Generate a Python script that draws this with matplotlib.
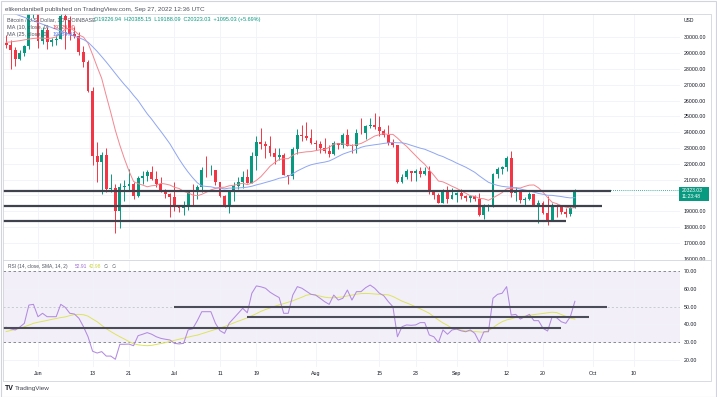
import numpy as np
import pandas as pd
import matplotlib
matplotlib.use("Agg")
import matplotlib.pyplot as plt
import matplotlib.dates as mdates
from matplotlib.patches import Rectangle
from matplotlib.lines import Line2D

plt.rcParams['font.family'] = ['Liberation Sans', 'DejaVu Sans']

W, H = 717, 397

# daily candles, BTC/USD Coinbase, 2022-05-25 .. 2022-09-27
dates = pd.date_range("2022-05-25", "2022-09-27", freq="D")

opens = [29650, 29540, 29200, 28620, 29030, 29470, 31730, 31800, 29800, 30450,
         29700, 29860, 29910, 31370, 31130, 30200, 30110, 29090, 28420, 26590,
         22490, 22130, 22590, 20380, 20470, 19010, 20550, 20580, 20720, 19970,
         21100, 21230, 21500, 21030, 20730, 20280, 20110, 19930, 19300, 19240,
         19300, 20230, 20190, 20550, 21620, 21590, 21600, 20850, 19960, 19330,
         20210, 20570, 20830, 21190, 20780, 22480, 23390, 23230, 23160, 22680,
         22460, 22580, 21310, 21250, 22950, 23850, 23780, 23640, 23300, 23270,
         22990, 22820, 22620, 23310, 23180, 23810, 23160, 23150, 23950, 23940,
         24400, 24440, 24310, 24100, 23850, 23340, 23210, 20830, 21140, 21520,
         21400, 21530, 21370, 21560, 20240, 20040, 19550, 20280, 19810, 20050,
         20130, 19950, 19830, 19990, 19800, 18790, 19290, 19320, 21360, 21650,
         21830, 22400, 20170, 20230, 19700, 19800, 20110, 19420, 19540, 18880,
         18480, 19400, 19300, 18930, 18800, 19226.94]

highs = [30180, 29860, 29380, 29210, 29540, 32220, 32400, 31970, 30670, 30690,
         29960, 30170, 31750, 31560, 31330, 30660, 30350, 29450, 28560, 26880,
         23360, 22750, 22980, 21340, 20750, 20800, 21000, 21700, 20870, 21220,
         21520, 21600, 21860, 21520, 21170, 20420, 20150, 20880, 19420, 19650,
         20330, 20730, 20660, 21830, 22510, 21950, 21610, 20870, 20050, 20290,
         20880, 21200, 21580, 21690, 22770, 23750, 24280, 23440, 23740, 22990,
         23010, 22660, 21320, 23090, 24190, 24440, 24660, 24190, 23510, 23450,
         23650, 23220, 23450, 23350, 23930, 24240, 23260, 24220, 24920, 24450,
         24880, 25210, 25050, 24230, 24440, 23600, 23210, 21360, 21690, 21530,
         21660, 21820, 21820, 21890, 20340, 20140, 20420, 20570, 20480, 20200,
         20440, 20050, 20000, 20040, 20170, 19460, 19450, 21440, 21800, 21860,
         22480, 22800, 20540, 20330, 19890, 20190, 20120, 19690, 19640, 19950,
         19500, 19480, 19320, 19180, 19320, 20385.15]

lows = [29320, 28030, 28220, 28560, 28850, 29300, 31230, 29310, 29580, 29280,
        29460, 29520, 29880, 29250, 29850, 29980, 28870, 28110, 26560, 21930,
        20850, 20080, 20250, 20240, 17630, 17950, 19650, 20360, 19780, 19900,
        20740, 20900, 20980, 20520, 20210, 19850, 18630, 19000, 18980, 18780,
        19060, 19310, 19780, 20250, 21200, 21320, 20650, 19900, 19250, 18920,
        19640, 20400, 20480, 20760, 20760, 21610, 22950, 22350, 22510, 22000,
        22270, 21280, 20710, 21050, 22600, 23420, 23520, 23240, 22850, 22680,
        22710, 22440, 22590, 22930, 22990, 23150, 22670, 22690, 23870, 23600,
        24300, 24200, 23790, 23700, 23200, 23080, 20800, 20760, 21070, 20890,
        20920, 21140, 21320, 20120, 19800, 19520, 19550, 19550, 19800, 19570,
        19760, 19650, 19600, 19640, 18680, 18530, 19020, 19300, 21100, 21360,
        21560, 19880, 19640, 19510, 19330, 19700, 19360, 18260, 18800, 18130,
        18380, 18620, 18820, 18630, 18690, 19188.09]

closes = [29540, 29200, 28620, 29030, 29470, 31730, 31800, 29800, 30450, 29700,
          29860, 29910, 31370, 31130, 30200, 30110, 29090, 28420, 26590, 22490,
          22130, 22590, 20380, 20470, 19010, 20550, 20580, 20720, 19970, 21100,
          21230, 21500, 21030, 20730, 20280, 20110, 19930, 19300, 19240, 19300,
          20230, 20190, 20550, 21620, 21590, 21600, 20850, 19960, 19330, 20210,
          20570, 20830, 21190, 20780, 22480, 23390, 23230, 23160, 22680, 22460,
          22580, 21310, 21250, 22950, 23850, 23780, 23640, 23300, 23270, 22990,
          22820, 22620, 23310, 23180, 23810, 23160, 23150, 23950, 23940, 24400,
          24440, 24310, 24100, 23850, 23340, 23210, 20830, 21140, 21520, 21400,
          21530, 21370, 21560, 20240, 20040, 19550, 20280, 19810, 20050, 20130,
          19950, 19830, 19990, 19800, 18790, 19290, 19320, 21360, 21650, 21830,
          22400, 20170, 20230, 19700, 19800, 20110, 19420, 19540, 18880, 18480,
          19400, 19300, 18930, 18800, 19226.94, 20323.03]

ma10 = [29700, 29720, 29760, 29800, 29850, 29900, 29940, 29960, 29960, 29934,
        29966, 30037, 30312, 30522, 30595, 30433, 30162, 30024, 29638, 28917,
        28144, 27412, 26313, 25247, 24128, 23172, 22321, 21551, 20889, 20750,
        20660, 20551, 20616, 20642, 20769, 20725, 20660, 20518, 20445, 20265,
        20165, 20034, 19986, 20075, 20206, 20355, 20447, 20513, 20522, 20613,
        20647, 20711, 20775, 20691, 20780, 20959, 21197, 21517, 21852, 22077,
        22278, 22326, 22332, 22549, 22686, 22725, 22766, 22780, 22839, 22892,
        22916, 23047, 23253, 23276, 23272, 23210, 23161, 23226, 23293, 23434,
        23596, 23765, 23844, 23911, 23864, 23869, 23637, 23356, 23114, 22814,
        22523, 22229, 21975, 21614, 21284, 20918, 20863, 20730, 20583, 20456,
        20298, 20144, 19987, 19943, 19818, 19792, 19696, 19851, 20011, 20181,
        20426, 20460, 20484, 20474, 20575, 20657, 20667, 20485, 20208, 19873,
        19573, 19486, 19356, 19266, 19209, 19230]

ma25 = [31710, 31600, 31490, 31380, 31280, 31170, 31060, 30950, 30840, 30740,
        30630, 30520, 30410, 30300, 30190, 30080, 29980, 29870, 29700, 29420,
        29120, 28790, 28450, 28090, 27724, 27364, 27019, 26703, 26341, 26006,
        25586, 25174, 24823, 24434, 24058, 23668, 23268, 22786, 22310, 21874,
        21479, 21123, 20808, 20609, 20573, 20552, 20482, 20466, 20420, 20468,
        20469, 20479, 20498, 20530, 20585, 20672, 20741, 20826, 20904, 20991,
        21090, 21145, 21223, 21372, 21554, 21696, 21834, 21944, 22010, 22066,
        22114, 22185, 22319, 22473, 22617, 22721, 22814, 22924, 23050, 23127,
        23169, 23212, 23250, 23297, 23332, 23357, 23338, 23334, 23276, 23178,
        23088, 22998, 22928, 22807, 22689, 22558, 22464, 22324, 22199, 22052,
        21924, 21791, 21632, 21467, 21242, 21036, 20837, 20727, 20639, 20579,
        20546, 20520, 20484, 20411, 20347, 20290, 20212, 20131, 20077, 20014,
        20008, 19969, 19934, 19884, 19848, 19863]

rsi = [38.4, 37.5, 36.9, 38.5, 40.6, 50.8, 51.2, 44.3, 46.2, 44.3,
       44.3, 44.3, 51.2, 49.5, 46.2, 45.8, 43.4, 38.7, 33.1, 25.0,
       24.0, 24.8, 22.3, 22.3, 20.5, 28.9, 28.9, 29.0, 28.1, 33.7,
       34.5, 35.4, 34.5, 33.1, 32.2, 31.7, 31.3, 29.4, 29.1, 29.4,
       36.9, 37.6, 42.0, 47.1, 47.1, 47.1, 40.6, 36.5, 35.0, 40.6,
       43.4, 46.2, 49.0, 46.5, 57.4, 61.5, 61.0, 60.2, 58.0, 56.4,
       55.0, 46.2, 46.2, 56.4, 61.1, 60.2, 58.5, 56.8, 56.4, 54.6,
       52.7, 51.2, 56.4, 53.6, 54.6, 59.2, 53.6, 58.3, 58.3, 60.5,
       62.0, 60.2, 57.5, 56.0, 52.7, 49.9, 33.1, 38.7, 39.7, 39.5,
       39.7, 41.0, 41.0, 34.1, 33.1, 29.8, 36.9, 34.5, 36.9, 37.4,
       36.4, 35.9, 36.9, 35.0, 30.0, 35.9, 35.9, 54.6, 56.8, 57.4,
       61.1, 45.2, 45.6, 43.0, 44.3, 45.6, 42.1, 42.1, 37.8, 36.3,
       44.3, 43.7, 41.5, 40.6, 44.3, 52.91]

rsi_ma = [36.0, 36.6, 37.2, 37.8, 38.7, 39.6, 40.6, 41.2, 41.7, 42.2,
          42.8, 43.3, 43.8, 44.2, 44.9, 45.5, 45.6, 45.4, 44.6, 43.0,
          41.5, 39.5, 37.6, 36.0, 34.5, 33.1, 31.8, 30.4, 29.2, 28.6,
          28.3, 28.1, 28.3, 28.8, 29.3, 29.8, 30.5, 31.1, 31.7, 32.3,
          32.9, 33.5, 34.0, 34.8, 35.6, 36.4, 37.2, 38.0, 38.8, 39.8,
          40.8, 41.8, 42.7, 43.7, 44.8, 46.0, 47.3, 48.3, 49.2, 50.1,
          50.9, 51.6, 52.4, 53.2, 54.2, 55.2, 56.3, 56.8, 56.4, 55.8,
          55.2, 54.9, 54.9, 55.1, 55.4, 55.9, 56.4, 56.9, 57.2, 57.3,
          57.2, 57.0, 56.8, 56.7, 56.5, 55.6, 54.3, 53.0, 52.0, 51.0,
          49.8, 48.7, 47.5, 46.2, 44.3, 42.5, 40.8, 39.5, 37.8, 37.2,
          36.8, 36.4, 36.2, 36.0, 35.8, 35.6, 36.5, 38.2, 40.0, 41.5,
          42.5, 43.1, 43.9, 44.3, 44.6, 45.0, 45.5, 45.8, 46.1, 46.5,
          46.8, 46.6, 45.5, 44.5, 43.5, 42.98]

# hand-drawn levels: (value, start date or None = left edge, end date)
price_levels = [(20300, None, "2022-10-05"),
                (19354, None, "2022-10-03"),
                (18405, None, "2022-09-25")]
rsi_levels = [(50.0, "2022-07-01", "2022-10-04"),
              (44.3, "2022-07-17", "2022-09-30"),
              (38.2, None, "2022-09-24")]

tick_dates = ["2022-06-01", "2022-06-13", "2022-06-21", "2022-07-01", "2022-07-11",
              "2022-07-19", "2022-08-01", "2022-08-15", "2022-08-23", "2022-09-01",
              "2022-09-12", "2022-09-20", "2022-10-01", "2022-10-10"]
tick_labels = ["Jun", "13", "21", "Jul", "11", "19", "Aug", "15", "23", "Sep",
               "12", "20", "Oct", "10"]
price_ticks = list(range(16000, 31000, 1000))

UP = '#089981'
DOWN = '#f23645'
GRID = '#f0f3fa'
FRAME = '#d1d4dc'
TXT = '#131722'

xs = mdates.date2num(dates.values)
o = np.array(opens)
c = np.array(closes)
x_left = xs[0] - 0.69
x_right = xs[0] + 148.1
tick_x = mdates.datestr2num(tick_dates)


def box(x0, y0, x1, y1):
    return [x0 / W, 1 - y1 / H, (x1 - x0) / W, (y1 - y0) / H]


def fy(y):
    return 1 - y / H


fig = plt.figure(figsize=(W / 100, H / 100), dpi=100)
fig.patch.set_facecolor('white')

# ---------- price pane ----------
ax = fig.add_axes(box(3, 14, 680, 259))
ax.set_xlim(x_left, x_right)
ax.set_ylim(15981, 31487)
for s in ax.spines.values():
    s.set_visible(False)
ax.set_yticks(price_ticks)
# 20000 sits under the last-price tag, like in TradingView
ax.set_yticklabels(["" if v == 20000 else f"{v}.00" for v in price_ticks])
ax.yaxis.tick_right()
ax.tick_params(axis='y', length=0, pad=2.9, labelsize=3.8, labelcolor=TXT)
ax.set_xticks(tick_x)
ax.tick_params(axis='x', length=0, labelbottom=False)
ax.grid(color=GRID, lw=0.6)
ax.set_axisbelow(True)

cols = [UP if cc >= oo else DOWN for oo, cc in zip(o, c)]
ax.vlines(xs, lows, highs, colors=cols, lw=0.7, zorder=2)
ax.bar(xs, np.maximum(np.abs(c - o), 25), bottom=np.minimum(o, c), width=0.64,
       color=cols, linewidth=0, zorder=3)

ax.plot(xs, ma10, color='#f4868f', lw=0.7, zorder=4)
ax.plot(xs, ma25, color='#8ea6f2', lw=0.7, zorder=4)

for val, start, end in price_levels:
    xa = x_left if start is None else mdates.datestr2num(start)
    ax.hlines(val, xa, mdates.datestr2num(end), color='#3f424c', lw=1.6, zorder=5)

ax.hlines(closes[-1], xs[-1], x_right, color=UP, lw=0.6, ls=(0, (1, 1.5)), zorder=4)

# ---------- RSI pane ----------
axr = fig.add_axes(box(3, 261, 680, 367))
axr.set_xlim(x_left, x_right)
axr.set_ylim(16.2, 75.42)
for s in axr.spines.values():
    s.set_visible(False)
axr.axhspan(30, 70, color='#7e57c2', alpha=0.09, lw=0, zorder=0)
axr.set_yticks([20, 30, 40, 50, 60, 70])
axr.set_yticklabels(["20.00", "30.00", "40.00", "50.00", "60.00", "70.00"])
axr.yaxis.tick_right()
axr.tick_params(axis='y', length=0, pad=2.9, labelsize=3.8, labelcolor=TXT)
axr.set_xticks(tick_x)
axr.set_xticklabels(tick_labels)
axr.tick_params(axis='x', length=0, pad=3.0, labelsize=3.8, labelcolor=TXT)
axr.grid(color=GRID, lw=0.6)
axr.set_axisbelow(True)
axr.axhline(70, color='#787b86', lw=0.6, ls=(0, (3, 3)), zorder=1)
axr.axhline(30, color='#787b86', lw=0.6, ls=(0, (3, 3)), zorder=1)
axr.axhline(50, color='#787b86', lw=0.5, ls=(0, (3, 3)), alpha=0.45, zorder=1)

axr.plot(xs, rsi_ma, color='#dde45c', lw=0.7, zorder=3)
axr.plot(xs, rsi, color='#b28ae0', lw=0.75, zorder=4)

for val, start, end in rsi_levels:
    xa = x_left if start is None else mdates.datestr2num(start)
    axr.hlines(val, xa, mdates.datestr2num(end), color='#4a4d58', lw=1.5, zorder=5)

# ---------- frames ----------
fig.add_artist(Rectangle((0.5 / W, 0.5 / H), 715.5 / W, 395.5 / H, transform=fig.transFigure,
                         fill=False, edgecolor=FRAME, lw=0.8))
fig.add_artist(Rectangle((3 / W, fy(381)), 708 / W, 367 / H, transform=fig.transFigure,
                         fill=False, edgecolor=FRAME, lw=0.6))
fig.add_artist(Line2D([3 / W, 711 / W], [fy(260), fy(260)], transform=fig.transFigure,
                      color=FRAME, lw=0.6))

# last price tag
fig.add_artist(Rectangle((679 / W, fy(200.5)), 30 / W, 13.5 / H, transform=fig.transFigure,
                         facecolor=UP, edgecolor='none'))
fig.text(682 / W, fy(190), "20323.03", color='white', fontsize=3.6, va='center')
fig.text(682 / W, fy(196.6), "11:23:48", color='white', fontsize=3.6, va='center')
fig.text(684 / W, fy(20), "USD", color=TXT, fontsize=3.6, va='center')

# ---------- texts ----------
fig.text(5 / W, fy(9), "elikendanibell published on TradingView.com, Sep 27, 2022 12:36 UTC",
         color='#50535e', fontsize=4.6, va='center')
fig.text(7 / W, fy(20), "Bitcoin / U.S. Dollar, 1D, COINBASE", color='#50535e',
         fontsize=4.0, va='center')
fig.text(94 / W, fy(20), "O19226.94  H20385.15  L19188.09  C20323.03  +1095.03 (+5.69%)",
         color=UP, fontsize=4.0, va='center')
fig.text(7 / W, fy(27.2), "MA (10, close, 0)", color='#50535e', fontsize=4.0, va='center')
fig.text(53 / W, fy(27.2), "19229.90", color=DOWN, fontsize=4.0, va='center')
fig.text(7 / W, fy(34.5), "MA (25, close, 0)", color='#50535e', fontsize=4.0, va='center')
fig.text(53 / W, fy(34.5), "19884.31", color='#5b7ff0', fontsize=4.0, va='center')

fig.text(8 / W, fy(266.8), "RSI (14, close, SMA, 14, 2)", color='#50535e', fontsize=3.5, va='center')
fig.text(75 / W, fy(266.8), "52.91", color='#9c6ad6', fontsize=3.5, va='center')
fig.text(89 / W, fy(266.8), "42.98", color='#c9d43a', fontsize=3.5, va='center')
fig.text(104 / W, fy(266.8), "∅", color='#50535e', fontsize=3.5, va='center')
fig.text(112 / W, fy(266.8), "∅", color='#50535e', fontsize=3.5, va='center')

fig.text(5 / W, fy(388.5), "TV", color=TXT, fontsize=5.0, fontweight='bold', va='center')
fig.text(15 / W, fy(388.5), "TradingView", color='#434651', fontsize=4.6, va='center')

fig.savefig("out.png", dpi=100)
